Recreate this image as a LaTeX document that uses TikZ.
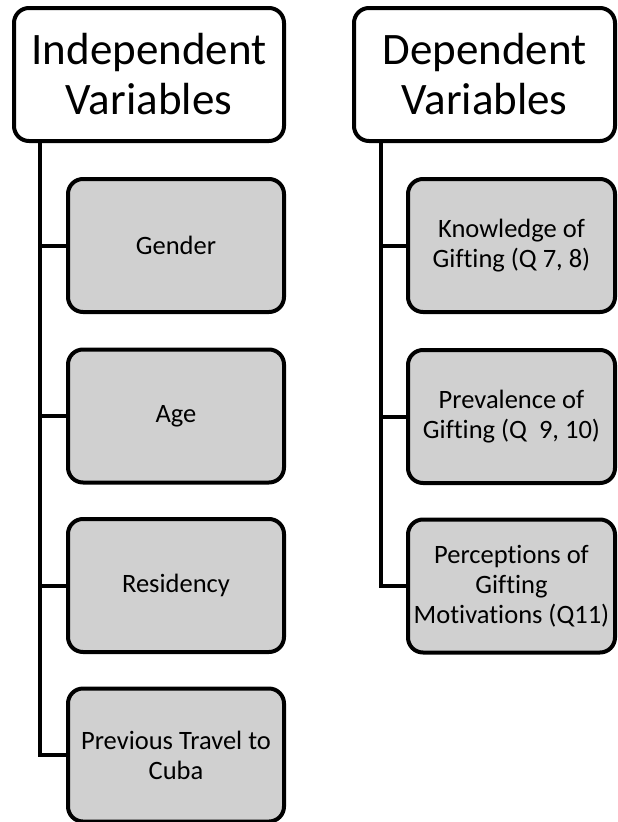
\documentclass[tikz,border=0pt]{standalone}
\usepackage{fontspec}
\setmainfont[Ligatures={NoCommon}]{Carlito}
\usepackage{tikz}
\definecolor{boxgray}{RGB}{208,208,208}
\tikzset{
    every node/.style={rectangle, rounded corners=15pt, draw, line width=4pt, align=center, inner sep=0pt},
    header/.style={fill=white, minimum height=133pt, font=\fontsize{45}{50}\selectfont},
    child/.style={fill=boxgray, minimum height=133pt, font=\fontsize{26.5}{30}\selectfont},
    link/.style={line width=4pt, line join=miter}
}

\begin{document}
\begin{tikzpicture}[x=1pt, y=-1pt]
    \useasboundingbox (0,0) rectangle (618,822);

    \node (ind) at (149, 74.5) [header, minimum width=270pt] {Independent\\Variables};
    \node (dep) at (484.5, 74.5) [header, minimum width=261pt] {Dependent\\Variables};

    \node (gender) at (176, 245.5) [child, minimum width=216pt] {Gender};
    \node (age) at (176, 416) [child, minimum width=216pt] {Age};
    \node (res) at (176, 585.5) [child, minimum width=216pt] {Residency};
    \node (travel) at (176, 755) [child, minimum width=216pt] {Previous Travel to\\Cuba};

    \node (know) at (511.5, 245.5) [child, minimum width=207pt] {Knowledge of\\Gifting (Q 7, 8)};
    \node (prev) at (511.5, 416.5) [child, minimum width=207pt] {Prevalence of\\Gifting (Q~~9, 10)};
    \node (perc) at (511.5, 586) [child, minimum width=207pt] {Perceptions of\\Gifting\\Motivations (Q11)};

    \coordinate (itrunk) at (40, 0);
    \coordinate (dtrunk) at (381, 0);

    \draw [link] (ind.south -| itrunk) |- (travel.west);
    \draw [link] (itrunk |- gender.west) -- (gender.west);
    \draw [link] (itrunk |- age.west) -- (age.west);
    \draw [link] (itrunk |- res.west) -- (res.west);

    \draw [link] (dep.south -| dtrunk) |- (perc.west);
    \draw [link] (dtrunk |- know.west) -- (know.west);
    \draw [link] (dtrunk |- prev.west) -- (prev.west);
\end{tikzpicture}
\end{document}
